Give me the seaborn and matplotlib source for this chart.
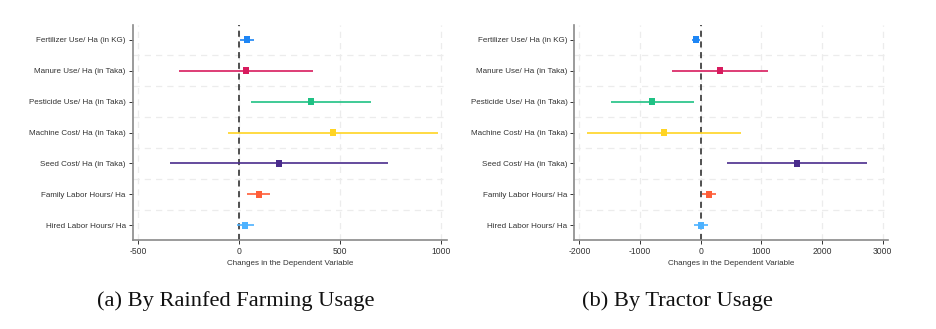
import matplotlib
matplotlib.use("Agg")
import matplotlib.pyplot as plt
import seaborn as sns
import pandas as pd

sns.set_style("white")
plt.rcParams['font.family'] = ['Liberation Sans', 'DejaVu Sans']

categories = ["Fertilizer Use/ Ha (in KG)", "Manure Use/ Ha (in Taka)",
              "Pesticide Use/ Ha (in Taka)", "Machine Cost/ Ha (in Taka)",
              "Seed Cost/ Ha (in Taka)", "Family Labor Hours/ Ha",
              "Hired Labor Hours/ Ha"]
colors = ["#1E86F5", "#D81B5E", "#1FC184", "#FFD423", "#4A2C8C", "#FF5E38", "#4DB2FF"]

# Panel (a): by rainfed farming usage
rain_est = [38, 35, 355, 463, 197, 96, 28]
rain_lo = [2, -298, 56, -58, -344, 40, -13]
rain_hi = [73, 367, 653, 987, 736, 152, 71]

# Panel (b): by tractor usage
trac_est = [-71, 324, -797, -599, 1583, 132, 0]
trac_lo = [-137, -467, -1473, -1868, 434, 16, -110]
trac_hi = [-8, 1115, -115, 670, 2737, 247, 115]

fig = plt.figure(figsize=(9.36, 3.29), dpi=100)
ax1 = fig.add_axes([0.1418, 0.2705, 0.3355, 0.6535])
ax2 = fig.add_axes([0.6136, 0.2705, 0.3348, 0.6535])

panels = [
    (ax1, rain_est, rain_lo, rain_hi, (-528, 1028), [-500, 0, 500, 1000],
     "(a) By Rainfed Farming Usage", 0.252),
    (ax2, trac_est, trac_lo, trac_hi, (-2082, 3082), [-2000, -1000, 0, 1000, 2000, 3000],
     "(b) By Tractor Usage", 0.724),
]

for ax, est, lo, hi, xlim, xticks, cap, cx in panels:
    df = pd.DataFrame({"cat": categories, "est": est, "lo": lo, "hi": hi})
    ypos = list(range(len(categories)))
    # grid
    for y in [i + 0.5 for i in range(len(categories) - 1)]:
        ax.axhline(y, color="#ececec", lw=0.9, ls=(0, (5, 4)), zorder=0)
    for x in xticks:
        ax.axvline(x, color="#ececec", lw=0.9, ls=(0, (5, 4)), zorder=0)
    ax.axvline(0, color="#222222", lw=1.1, ls=(0, (4, 3)), zorder=1)
    for i, r in df.iterrows():
        ax.hlines(ypos[i], r["lo"], r["hi"], color=colors[i], lw=1.2, zorder=2)
    sns.scatterplot(data=df, x="est", y=ypos, hue="cat", palette=colors,
                    marker="s", s=20, linewidth=0, legend=False, ax=ax, zorder=3)
    ax.set_ylim(len(categories) - 1 + 0.47, -0.47)
    ax.set_xlim(*xlim)
    ax.set_yticks(ypos)
    ax.set_yticklabels(categories)
    ax.set_xticks(xticks)
    ax.set_xticklabels([str(t) for t in xticks])
    ax.set_xlabel("Changes in the Dependent Variable", fontsize=5.8, color="#333333", labelpad=3)
    ax.set_ylabel("")
    ax.tick_params(axis="y", labelsize=5.8)
    ax.tick_params(axis="x", labelsize=6.2)
    ax.tick_params(axis="both", colors="#333333", length=3, width=0.7,
                   left=True, bottom=True, pad=2)
    for s in ["top", "right"]:
        ax.spines[s].set_visible(False)
    for s in ["left", "bottom"]:
        ax.spines[s].set_color("#8a8a8a")
        ax.spines[s].set_linewidth(1.2)
    fig.text(cx, 0.085, cap, ha="center", va="center", fontsize=16.2,
             family=["Liberation Serif", "DejaVu Serif"], color="#111111")

fig.savefig("out.png", dpi=100, facecolor="white")
